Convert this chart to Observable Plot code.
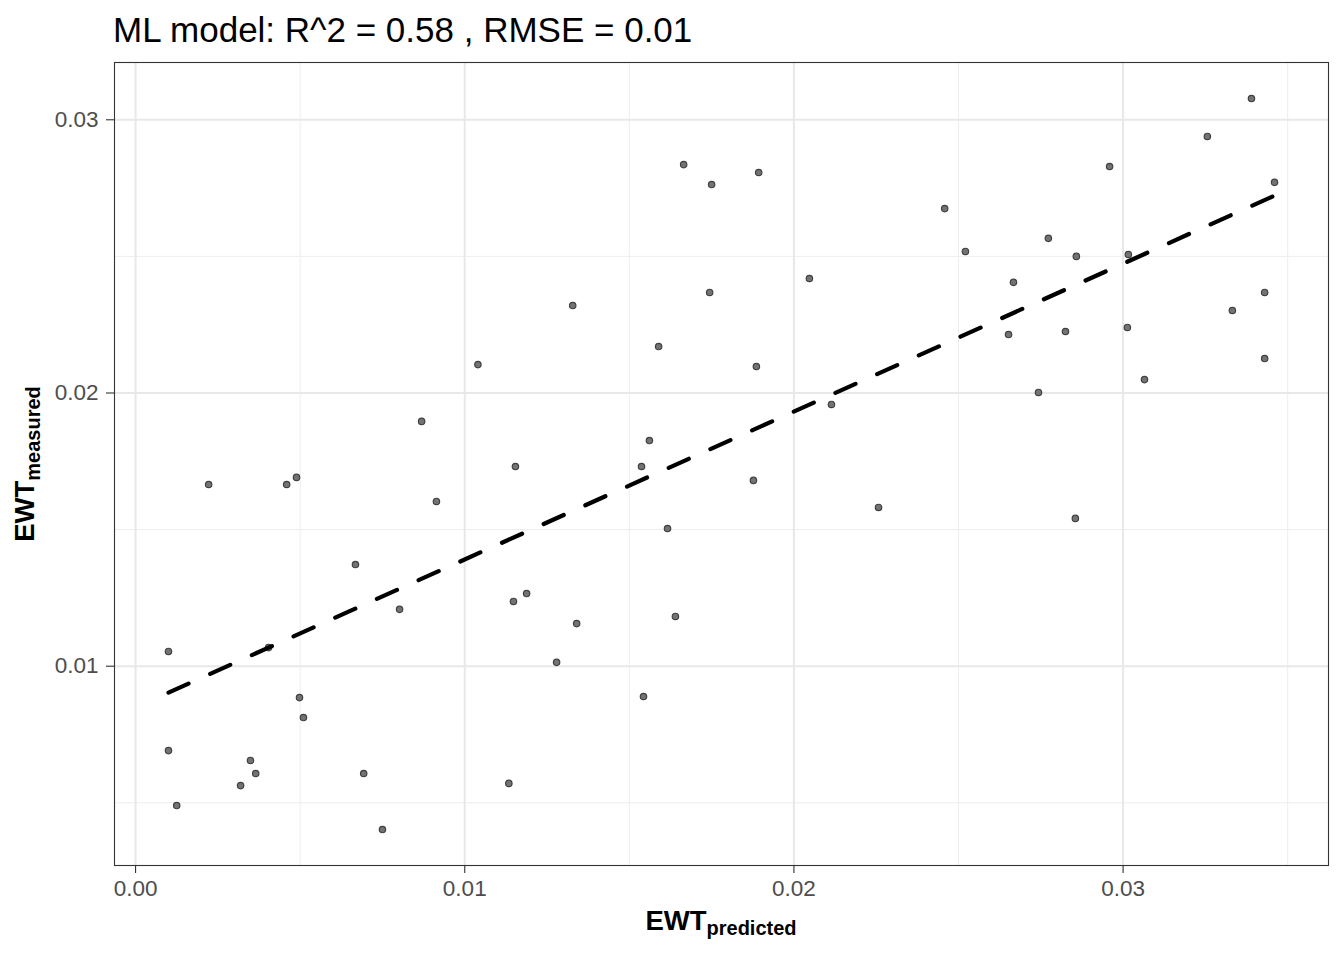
<!DOCTYPE html>
<html>
<head>
<meta charset="utf-8">
<script src="https://cdn.jsdelivr.net/npm/d3@7"></script>
<script src="https://cdn.jsdelivr.net/npm/@observablehq/plot@0.6"></script>
<style>
  body { margin: 0; background: #ffffff; }
  svg { display: block; }
</style>
</head>
<body>
<div id="chart"></div>
<script>
const titleText = "ML model: R^2 = 0.58 , RMSE = 0.01";
const xLabelMain = "EWT";
const xLabelSub = "predicted";
const yLabelMain = "EWT";
const yLabelSub = "measured";

const predicted = [0.00100, 0.00100, 0.00125, 0.00222, 0.00319, 0.00349, 0.00365, 0.00404, 0.00459, 0.00489,
  0.00498, 0.00510, 0.00668, 0.00693, 0.00750, 0.00802, 0.00869, 0.00914, 0.01040, 0.01134,
  0.01148, 0.01154, 0.01188, 0.01279, 0.01328, 0.01340, 0.01537, 0.01543, 0.01561, 0.01589,
  0.01616, 0.01640, 0.01665, 0.01744, 0.01750, 0.01877, 0.01886, 0.01893, 0.02047, 0.02114,
  0.02257, 0.02458, 0.02521, 0.02652, 0.02667, 0.02743, 0.02773, 0.02825, 0.02855, 0.02858,
  0.02959, 0.03016, 0.03013, 0.03065, 0.03256, 0.03332, 0.03390, 0.03430, 0.03430, 0.03460];

const measured = [0.01054, 0.00691, 0.00490, 0.01665, 0.00563, 0.00655, 0.00607, 0.01068, 0.01665, 0.01691,
  0.00885, 0.00812, 0.01372, 0.00607, 0.00402, 0.01208, 0.01896, 0.01603, 0.02104, 0.00571,
  0.01237, 0.01731, 0.01266, 0.01014, 0.02320, 0.01156, 0.01731, 0.00889, 0.01826, 0.02170,
  0.01504, 0.01182, 0.02836, 0.02368, 0.02763, 0.01680, 0.02097, 0.02807, 0.02419, 0.01958,
  0.01581, 0.02675, 0.02518, 0.02214, 0.02405, 0.02002, 0.02566, 0.02225, 0.01541, 0.02500,
  0.02829, 0.02507, 0.02240, 0.02049, 0.02939, 0.02302, 0.03078, 0.02368, 0.02126, 0.02771];

const xMajor = [0, 0.01, 0.02, 0.03];
const xMinor = [0.005, 0.015, 0.025, 0.035];
const yMajor = [0.01, 0.02, 0.03];
const yMinor = [0.005, 0.015, 0.025];
const xTickLabels = ["0.00", "0.01", "0.02", "0.03"];
const yTickLabels = ["0.01", "0.02", "0.03"];

const data = predicted.map((p, i) => ({predicted: p, measured: measured[i]}));

const font = "'Liberation Sans', Arial, Helvetica, sans-serif";

const chart = Plot.plot({
  width: 1344,
  height: 960,
  marginLeft: 114,
  marginRight: 16,
  marginTop: 62,
  marginBottom: 95,
  style: {fontFamily: font, background: "#ffffff", color: "#333333"},
  x: {domain: [-0.00064, 0.03624]},
  y: {domain: [0.002705, 0.032097]},
  marks: [
    Plot.ruleX(xMinor, {stroke: "#ededed", strokeWidth: 1}),
    Plot.ruleY(yMinor, {stroke: "#ededed", strokeWidth: 1}),
    Plot.ruleX(xMajor, {stroke: "#e8e8e8", strokeWidth: 2}),
    Plot.ruleY(yMajor, {stroke: "#e8e8e8", strokeWidth: 2}),
    Plot.dot(data, {
      x: "predicted", y: "measured", r: 3.2,
      fill: "#737373",
      stroke: "#404040", strokeWidth: 1.2
    }),
    Plot.linearRegressionY(data, {
      x: "predicted", y: "measured", ci: 0,
      stroke: "black", strokeWidth: 4.2, strokeDasharray: "22,23.7"
    }),
    Plot.frame({stroke: "#333333", strokeWidth: 1.1}),
    Plot.axisX({
      ticks: xMajor, tickSize: 8, tickPadding: 7,
      tickFormat: d => xTickLabels[xMajor.indexOf(d)],
      fontSize: 22.5, fill: "#4d4d4d", stroke: "#333333", strokeWidth: 1.1, label: null
    }),
    Plot.axisY({
      ticks: yMajor, tickSize: 8, tickPadding: 8,
      tickFormat: d => yTickLabels[yMajor.indexOf(d)],
      fontSize: 22.5, fill: "#4d4d4d", stroke: "#333333", strokeWidth: 1.1, label: null
    })
  ]
});

document.getElementById("chart").appendChild(chart);

const svg = d3.select(chart);

svg.append("text")
  .attr("x", 113)
  .attr("y", 42)
  .attr("text-anchor", "start")
  .attr("font-family", font)
  .attr("font-size", 35)
  .attr("fill", "#000000")
  .text(titleText);

const xl = svg.append("text")
  .attr("x", 721)
  .attr("y", 930)
  .attr("text-anchor", "middle")
  .attr("font-family", font)
  .attr("font-weight", "bold")
  .attr("font-size", 27.5)
  .attr("fill", "#000000");
xl.append("tspan").text(xLabelMain);
xl.append("tspan").attr("font-size", 20).attr("dy", 5).text(xLabelSub);

const yl = svg.append("text")
  .attr("transform", "translate(33.5,464) rotate(-90)")
  .attr("text-anchor", "middle")
  .attr("font-family", font)
  .attr("font-weight", "bold")
  .attr("font-size", 27.5)
  .attr("fill", "#000000");
yl.append("tspan").text(yLabelMain);
yl.append("tspan").attr("font-size", 20).attr("dy", 6).text(yLabelSub);
</script>
</body>
</html>
